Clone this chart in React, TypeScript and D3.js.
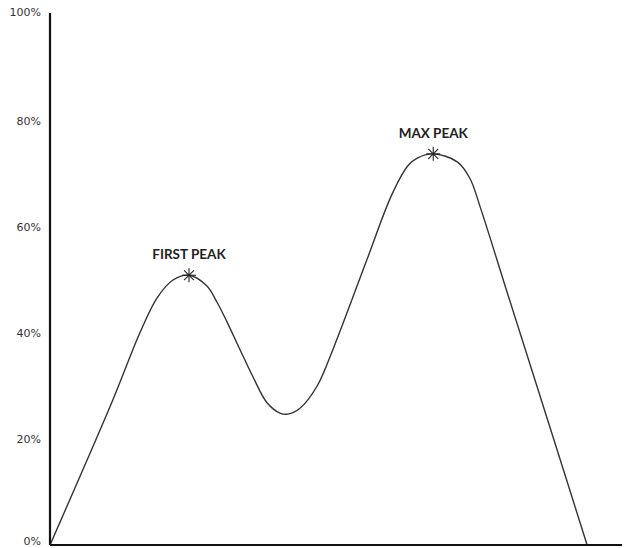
import React from "react";
import * as d3 from "d3";

const xValues = [0, 11.0, 15.7, 18.7, 21.5, 24.3, 27.4, 29.2, 30.9, 33.2, 35.5, 37.9, 40.2, 41.6, 43.7, 46.7, 49.5, 55.4, 59.8, 62.6, 64.2, 67.0, 71.2, 73.4, 75.2, 80.0, 87.0, 93.9];
const yValues = [0, 27.4, 40.0, 46.6, 50.0, 50.9, 48.9, 45.8, 42.2, 36.9, 31.7, 26.9, 24.9, 24.7, 25.8, 30.0, 37.0, 53.8, 66.2, 71.6, 73.0, 73.8, 72.3, 69.2, 63.8, 47.4, 23.6, 0];
const yTicks = [0, 20, 40, 60, 80, 100];
const peakNames = ["FIRST PEAK", "MAX PEAK"];
const peakX = [24.3, 67.0];
const peakY = [50.9, 73.8];

const W = 629;
const H = 548;

export default function App() {
  const x = d3.scaleLinear().domain([0, 100]).range([50, 622]);
  const y = d3.scaleLinear().domain([0, 100]).range([545, 15]);
  const pts: [number, number][] = xValues.map((v, i) => [v, yValues[i]]);
  const line = d3
    .line<[number, number]>()
    .x((d) => x(d[0]))
    .y((d) => y(d[1]))
    .curve(d3.curveCatmullRom.alpha(0.5));
  const r = 7;
  return (
    <div style={{ position: "absolute", left: 0, top: 0 }}>
      <svg width={W} height={H} style={{ display: "block", background: "#fff" }}>
        <path d={line(pts) || ""} fill="none" stroke="#333" strokeWidth={1.4} />
        <line x1={x(0)} x2={x(0)} y1={13} y2={y(0)} stroke="#111" strokeWidth={2.2} />
        <line x1={x(0)} x2={622} y1={y(0)} y2={y(0)} stroke="#111" strokeWidth={2.2} />
        {yTicks.map((t) => (
          <text
            key={t}
            x={41}
            y={t === 100 ? 12 : t === 0 ? 541 : y(t)}
            dy="0.35em"
            textAnchor="end"
            fontFamily="DejaVu Sans, sans-serif"
            fontSize={11}
            fill="#333"
          >
            {t + "%"}
          </text>
        ))}
        {peakNames.map((n, i) => {
          const cx = x(peakX[i]);
          const cy = y(peakY[i]);
          return (
            <g key={n}>
              {[0, 45, 90, 135].map((a) => {
                const rad = (a * Math.PI) / 180;
                return (
                  <line
                    key={a}
                    x1={cx - r * Math.cos(rad)}
                    y1={cy - r * Math.sin(rad)}
                    x2={cx + r * Math.cos(rad)}
                    y2={cy + r * Math.sin(rad)}
                    stroke="#222"
                    strokeWidth={1.1}
                  />
                );
              })}
              <text
                x={cx}
                y={cy - 16}
                textAnchor="middle"
                fontFamily="Lato, sans-serif"
                fontWeight="bold"
                fontSize={13.5}
                fill="#222"
              >
                {n}
              </text>
            </g>
          );
        })}
      </svg>
    </div>
  );
}
